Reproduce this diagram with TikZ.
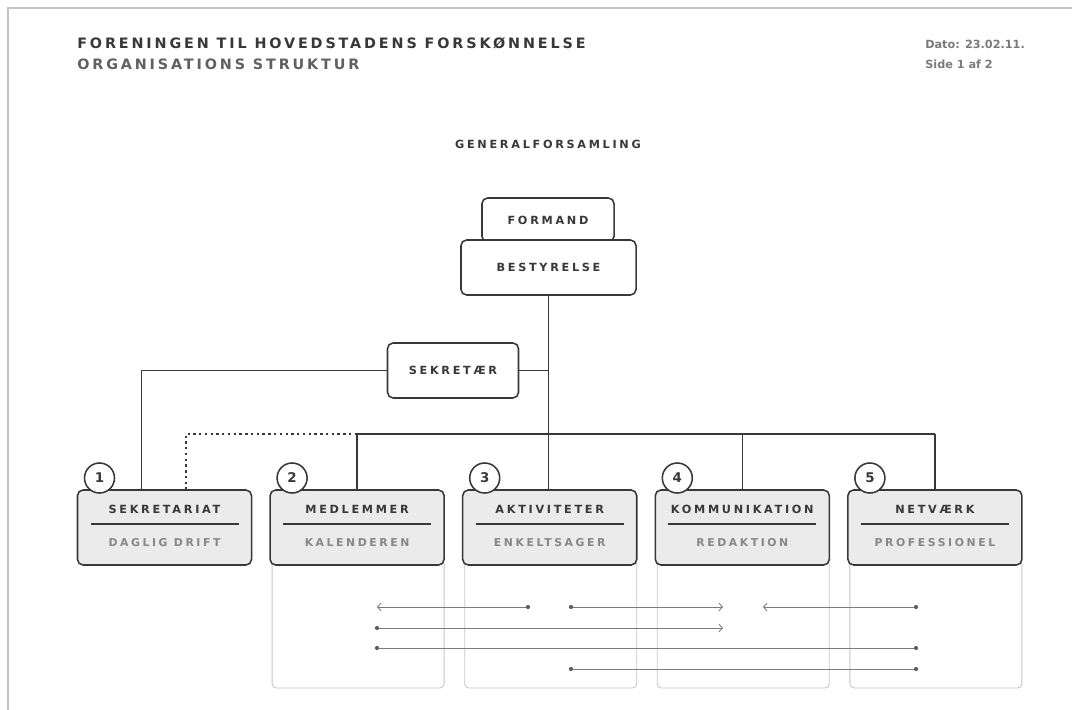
\documentclass[tikz,border=0pt]{standalone}
\usepackage{fontspec}
\setmainfont{DejaVu Sans}
\newfontfamily\spaced[LetterSpace=20]{DejaVu Sans}
\newfontfamily\wide[LetterSpace=24]{DejaVu Sans}
\usetikzlibrary{arrows.meta,calc,positioning}
\definecolor{blaek}{HTML}{383838}
\definecolor{graa}{HTML}{7A7A7A}
\definecolor{lysgraa}{HTML}{C4C4C4}
\definecolor{boksfyld}{HTML}{EBEBEB}

\begin{document}
\begin{tikzpicture}[x=0.025cm,y=-0.025cm,
	boks/.style={draw=blaek,line width=1.1pt,rounded corners=4pt,fill=white,inner sep=0pt,
		text=blaek,font=\wide\bfseries\fontsize{8}{9}\selectfont},
	afdboks/.style={boks,fill=boksfyld,minimum width=4.35cm,minimum height=1.875cm},
	afdtitel/.style={inner sep=0pt,text=blaek,font=\wide\bfseries\fontsize{8}{9}\selectfont},
	afdopgave/.style={inner sep=0pt,text=graa!90,font=\wide\bfseries\fontsize{7.7}{9}\selectfont},
	nummer/.style={circle,draw=blaek,line width=1.1pt,fill=white,minimum size=0.75cm,inner sep=0pt,
		text=blaek,font=\bfseries\fontsize{9.5}{10}\selectfont},
	forbindelse/.style={draw=blaek,line width=0.95pt},
	pil/.style={draw=graa,line width=0.6pt},
	prik/.style={circle,fill=blaek!80,minimum size=3pt,inner sep=0pt}]
	\useasboundingbox (0,0) rectangle (1072,710);
	\draw[lysgraa,line width=0.8pt] (8,710) |- (1072,8);

	\node[anchor=west,inner sep=0pt,text=blaek,font=\spaced\bfseries\fontsize{10.2}{12}\selectfont] (forening) at (77,43) {FORENINGEN TIL HOVEDSTADENS FORSKØNNELSE};
	\node[anchor=west,inner sep=0pt,text=blaek!80,font=\spaced\bfseries\fontsize{10.2}{12}\selectfont] (struktur) at (77,64) {ORGANISATIONS STRUKTUR};
	\node[anchor=west,inner sep=0pt,text=graa,font=\bfseries\fontsize{8}{10}\selectfont] (dato) at (925,44) {Dato: 23.02.11.};
	\node[anchor=west,inner sep=0pt,text=graa,font=\bfseries\fontsize{8}{10}\selectfont] (side) at (925,64) {Side 1 af 2};
	\node[afdtitel,font=\wide\bfseries\fontsize{8}{9}\selectfont] (generalforsamling) at (548,144) {GENERALFORSAMLING};

	\node[boks,minimum width=3.3cm,minimum height=1.1cm] (formand) at (548,220) {FORMAND};
	\node[boks,minimum width=4.375cm,minimum height=1.375cm] (bestyrelse) at (548.5,267.5) {BESTYRELSE};
	\node[boks,minimum width=3.275cm,minimum height=1.375cm] (sekretaer) at (453,370.5) {SEKRETÆR};

	\foreach \i/\titel/\opgave in {1/SEKRETARIAT/DAGLIG DRIFT,2/MEDLEMMER/KALENDEREN,3/AKTIVITETER/ENKELTSAGER,4/KOMMUNIKATION/REDAKTION,5/NETVÆRK/PROFESSIONEL}{
		\pgfmathsetmacro\cx{164.5+192.6*(\i-1)}
		\ifnum\i>1 \draw[lysgraa,line width=0.6pt,rounded corners=3pt] (\cx-85,560) rectangle (\cx+87,688); \fi
		\node[afdboks] (afd\i) at (\cx,527.5) {};
		\node[afdtitel] (titel\i) at (\cx,509) {\titel};
		\draw[blaek,line width=0.8pt] (\cx-74,524) -- (\cx+74,524);
		\node[afdopgave] (opgave\i) at (\cx,543) {\opgave};
		\node[nummer] (nr\i) at (\cx-65,478) {\i};
	}

	\coordinate (skinne) at (0,434);
	\draw[forbindelse] (bestyrelse.south) -- (bestyrelse.south |- afd3.north);
	\draw[forbindelse] (sekretaer.east) -- (sekretaer.east -| bestyrelse.south);
	\draw[forbindelse] (sekretaer.west) -| ($(afd1.north west)+(65,0)$);
	\draw[forbindelse] (afd2.north |- skinne) -- (afd5.north |- skinne);
	\foreach \i in {2,4,5}
		\draw[forbindelse] (afd\i.north) -- (afd\i.north |- skinne);
	\draw[blaek,line width=1.7pt,dash pattern=on 1.7pt off 2.4pt] (afd2.north |- skinne) -| ($(afd1.north west)+(109,0)$);

	\foreach \n/\x/\y in {a/528/607,b/571/607,c/916/607,d/377/628,e/377/648,f/916/648,g/571/669,h/916/669}
		\node[prik] (prik\n) at (\x,\y) {};
	\foreach \n/\x/\y in {a/377/607,b/723/607,c/763/607,d/723/628}
		\coordinate (spids\n) at (\x,\y);
	\foreach \n in {a,b,c,d}
		\draw[pil,-{Straight Barb[length=2.5pt,width=5.5pt]}] (prik\n) -- (spids\n);
	\draw[pil] (prike) -- (prikf);
	\draw[pil] (prikg) -- (prikh);
\end{tikzpicture}
\end{document}
